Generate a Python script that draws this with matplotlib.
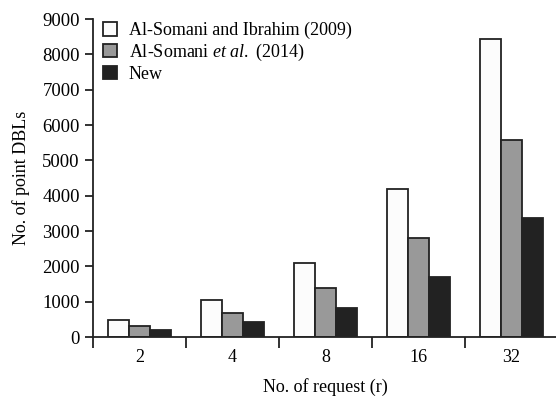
import numpy as np
import matplotlib.pyplot as plt

plt.rcParams['font.family'] = ['Liberation Serif', 'DejaVu Serif']
plt.rcParams['mathtext.fontset'] = 'custom'
plt.rcParams['mathtext.rm'] = 'Liberation Serif'
plt.rcParams['mathtext.it'] = 'Liberation Serif:italic'

requests = ['2', '4', '8', '16', '32']
ibrahim_2009 = [490, 1040, 2100, 4200, 8430]
somani_2014 = [320, 680, 1390, 2790, 5570]
new_method = [200, 420, 830, 1690, 3380]

x = np.arange(len(requests))
w = 0.226

fig = plt.figure(figsize=(5.56, 3.98), dpi=100)
ax = fig.add_axes([93 / 556, 61 / 398, 465 / 556, 318 / 398])

ax.bar(x - w, ibrahim_2009, w, color='#fcfcfc', edgecolor='#222222', linewidth=1.3,
       label='Al-Somani and Ibrahim (2009)')
ax.bar(x, somani_2014, w, color='#999999', edgecolor='#222222', linewidth=1.3,
       label='Al-Somani $et\\ al.$ (2014)')
ax.bar(x + w, new_method, w, color='#222222', edgecolor='#222222', linewidth=1.3,
       label='New')

ax.set_xlim(-0.5, 4.5)
ax.set_ylim(0, 9000)
ax.set_yticks(np.arange(0, 9001, 1000))
ax.set_xticks(x)
ax.set_xticklabels(requests)
ax.set_xticks(np.arange(-0.5, 4.6, 1), minor=True)
ax.tick_params(axis='x', which='major', length=0, pad=9, labelsize=13)
ax.tick_params(axis='x', which='minor', length=8, width=1.3, direction='out', color='#222222')
ax.tick_params(axis='y', length=6, width=1.3, direction='out', labelsize=13.5, color='#222222')

for s in ['top', 'right']:
    ax.spines[s].set_visible(False)
for s in ['left', 'bottom']:
    ax.spines[s].set_linewidth(1.3)
    ax.spines[s].set_color('#222222')

ax.set_xlabel('No. of request (r)', fontsize=13, labelpad=8)
ax.set_ylabel('No. of point DBLs', fontsize=13, labelpad=9)

ax.legend(loc='upper left', bbox_to_anchor=(-0.005, 1.03), frameon=False, fontsize=13,
          handlelength=0.75, handleheight=0.75, handletextpad=0.65, labelspacing=0.15,
          borderaxespad=0.3)

fig.savefig('out.png', dpi=100)
